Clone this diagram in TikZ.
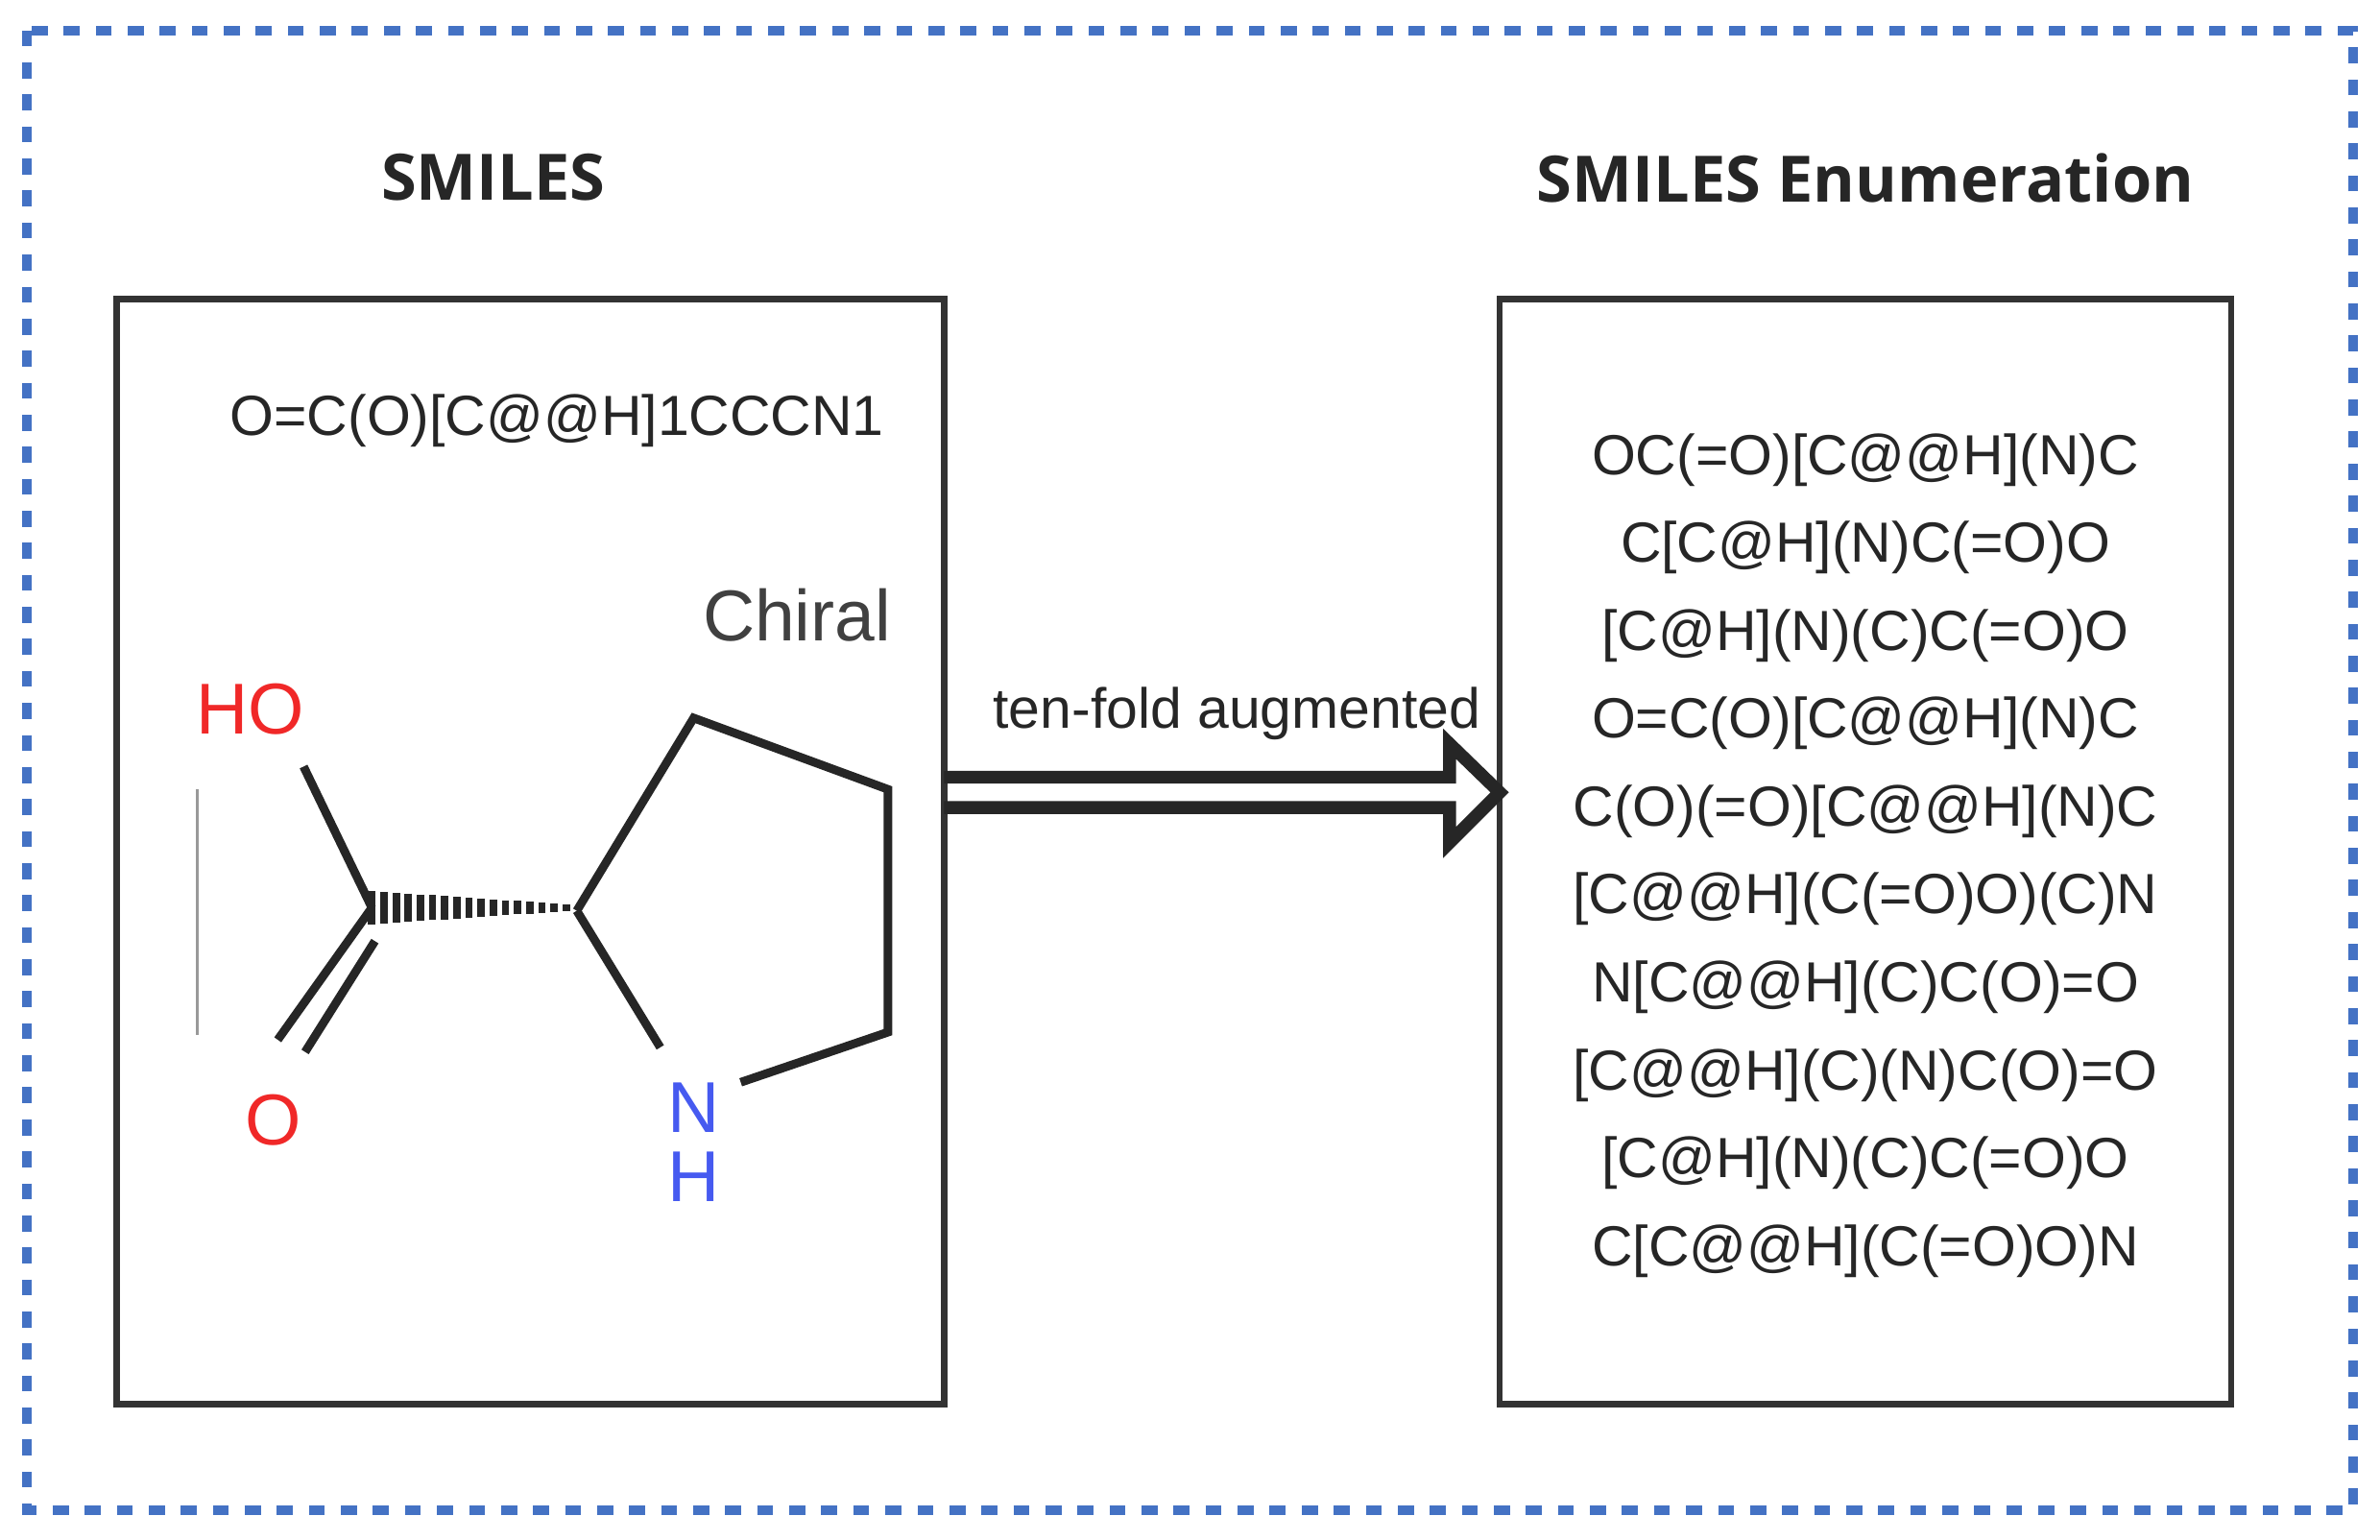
\documentclass[tikz,border=0pt]{standalone}
\usepackage{fontspec}
\setmainfont{Liberation Sans}
\newfontfamily\titlefont{Open Sans}
\usetikzlibrary{arrows.meta}
\definecolor{dashblue}{RGB}{68,114,196}
\definecolor{ored}{RGB}{240,40,40}
\definecolor{nblue}{RGB}{70,90,240}
\begin{document}
\begin{tikzpicture}[x=0.01cm,y=-0.01cm,
  box/.style={draw=black!80,line width=1.2pt},
  title/.style={font=\titlefont\bfseries\fontsize{12}{14}\selectfont,text=black!85},
  smi/.style={font=\fontsize{10.6}{12}\selectfont,text=black!85},
  bond/.style={line width=1.6pt,black!85},
  atom/.style={font=\fontsize{13.5}{16}\selectfont,inner sep=1pt}]
\useasboundingbox (0,0) rectangle (1568,1014);
\draw[dashblue,line width=1.8pt,dash pattern=on 3pt off 3pt] (18,20) rectangle (1550,995);
\node[title] (t1) at (325,117) {SMILES};
\node[title] (t2) at (1229,117) {SMILES Enumeration};
\draw[box] (77,197) rectangle (622,925);
\draw[box] (988,197) rectangle (1470,925);
\node[smi] (s) at (367,277) {O=C(O)[C@@H]1CCCN1};
\node[font=\fontsize{13.5}{16}\selectfont,text=black!75] (ch) at (525,405) {Chiral};
% molecule
\node[atom,text=ored] (ho) at (165,467) {HO};
\node[atom,text=ored] (o) at (180,738) {O};
\node[atom,text=nblue] (n) at (457,730) {N};
\node[atom,text=nblue] (h) at (457,775) {H};
\coordinate (c1) at (245,598);
\coordinate (c2) at (380,600);
\coordinate (c3) at (457,473);
\coordinate (c4) at (585,520);
\coordinate (c5) at (585,680);
\draw[bond] (200,505) -- (c1);
\draw[bond] (c1) -- (183,685);
\draw[bond] (247,620) -- (201,693);
\foreach \i in {0,...,16}{
  \pgfmathsetmacro\xx{245+\i*8}
  \pgfmathsetmacro\hh{11-\i*0.55}
  \draw[line width=1.4pt,black!85] (\xx,598-\hh) -- (\xx,598+\hh);
}
\draw[bond] (c2) -- (c3) -- (c4) -- (c5) -- (488,713);
\draw[bond] (435,690) -- (c2);
\draw[black!40,line width=0.6pt] (130,520) -- (130,682);
% arrow
\coordinate (a1) at (622,512);
\coordinate (a2) at (622,532);
\draw[line width=2.4pt,black!85,line join=miter] (a1) -- (955,512) -- (955,490) -- (988,522) -- (955,555) -- (955,532) -- (a2);
\node[font=\fontsize{10.6}{12}\selectfont,text=black!85] (lab) at (815,470) {ten-fold augmented};
% list
\foreach \t [count=\k from 0] in {OC(=O)[C@@H](N)C, C[C@H](N)C(=O)O, [C@H](N)(C)C(=O)O, O=C(O)[C@@H](N)C, C(O)(=O)[C@@H](N)C, [C@@H](C(=O)O)(C)N, N[C@@H](C)C(O)=O, [C@@H](C)(N)C(O)=O, [C@H](N)(C)C(=O)O, C[C@@H](C(=O)O)N}{
  \node[smi] (l\k) at (1229,{303+\k*57.9}) {\t};
}
\end{tikzpicture}
\end{document}
